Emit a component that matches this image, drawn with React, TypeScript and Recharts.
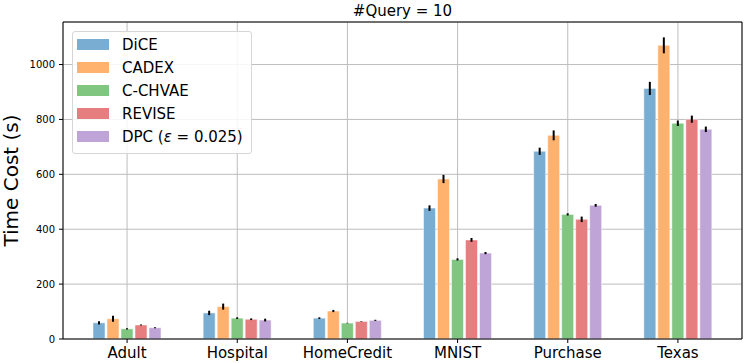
import React from 'react';
import { BarChart, Bar, XAxis, YAxis, CartesianGrid, Legend, ErrorBar } from 'recharts';

const categories = ['Adult', 'Hospital', 'HomeCredit', 'MNIST', 'Purchase', 'Texas'];

const diceValues = [59, 95, 76, 477, 684, 913];
const diceErrors = [6, 8, 3, 10, 13, 24];
const cadexValues = [74, 118, 102, 583, 742, 1070];
const cadexErrors = [11, 11, 4, 15, 18, 29];
const cchvaeValues = [37, 76, 58, 290, 454, 786];
const cchvaeErrors = [2, 3, 1, 4, 4, 10];
const reviseValues = [51, 72, 64, 361, 436, 801];
const reviseErrors = [2, 3, 1, 7, 10, 13];
const dpcValues = [41, 69, 68, 313, 487, 764];
const dpcErrors = [2, 5, 2, 4, 5, 10];

const yTicks = [0, 200, 400, 600, 800, 1000];

const series = [
  { key: 'dice', label: 'DiCE', color: '#79ADD2', values: diceValues, errors: diceErrors },
  { key: 'cadex', label: 'CADEX', color: '#FFB26E', values: cadexValues, errors: cadexErrors },
  { key: 'cchvae', label: 'C-CHVAE', color: '#80C680', values: cchvaeValues, errors: cchvaeErrors },
  { key: 'revise', label: 'REVISE', color: '#E67D7E', values: reviseValues, errors: reviseErrors },
  { key: 'dpc', label: 'DPC', color: '#BFA4D7', values: dpcValues, errors: dpcErrors },
];

const data = categories.map((name, i) => {
  const row: Record<string, any> = { name };
  series.forEach((s) => {
    row[s.key] = s.values[i];
    row[s.key + '_err'] = s.errors[i];
  });
  return row;
});

const FONT = '"DejaVu Sans", sans-serif';

const renderLegend = () => (
  <div
    style={{
      width: 178,
      border: '1px solid #d6d6d6',
      borderRadius: 3,
      background: 'rgba(255,255,255,0.85)',
      padding: '1px 0 5px 0',
      fontFamily: FONT,
      fontSize: 15,
      color: '#000',
    }}
  >
    {series.map((s) => (
      <div key={s.key} style={{ height: 23, display: 'flex', alignItems: 'center' }}>
        <div style={{ width: 32, height: 11, background: s.color, marginLeft: 4, marginRight: 13 }} />
        <span style={{ whiteSpace: 'nowrap' }}>
          {s.key === 'dpc' ? (
            <>
              DPC (<i>ε</i> = 0.025)
            </>
          ) : (
            s.label
          )}
        </span>
      </div>
    ))}
  </div>
);

export default function App() {
  return (
    <div style={{ position: 'absolute', left: 0, top: 0, background: '#fff' }}>
      <BarChart
        width={747}
        height={363}
        data={data}
        margin={{ top: 21, right: 4, bottom: 0, left: 23 }}
        barSize={12}
        barGap={2}
        style={{ fontFamily: FONT }}
      >
        <CartesianGrid stroke="#bdbdbd" strokeWidth={1} />
        <XAxis
          dataKey="name"
          height={24}
          padding={{ left: 9, right: 9 }}
          tickSize={4}
          tickMargin={4}
          tick={{ fontSize: 15, fill: '#000', fontFamily: FONT }}
          axisLine={{ stroke: '#000' }}
          tickLine={{ stroke: '#000' }}
          interval={0}
        />
        <XAxis
          xAxisId="top"
          orientation="top"
          dataKey="name"
          height={1}
          padding={{ left: 9, right: 9 }}
          tick={false}
          tickLine={false}
          axisLine={{ stroke: '#000' }}
          label={{ value: '#Query = 10', position: 'top', offset: 5, fontSize: 15, fill: '#000', fontFamily: FONT }}
        />
        <YAxis
          width={40}
          domain={[0, 1155]}
          ticks={yTicks}
          allowDataOverflow
          tickSize={4}
          tickMargin={4}
          tick={{ fontSize: 10, fill: '#000', fontFamily: FONT }}
          axisLine={{ stroke: '#000' }}
          tickLine={{ stroke: '#000' }}
          label={{
            value: 'Time Cost (s)',
            angle: -90,
            position: 'insideLeft',
            offset: -12,
            style: { textAnchor: 'middle', fontSize: 20, fill: '#000', fontFamily: FONT },
          }}
        />
        <YAxis
          yAxisId="right"
          orientation="right"
          width={1}
          domain={[0, 1155]}
          tick={false}
          tickLine={false}
          axisLine={{ stroke: '#000' }}
        />
        <Legend
          layout="vertical"
          align="center"
          verticalAlign="middle"
          content={renderLegend}
          wrapperStyle={{ left: 72, top: 31, width: 'auto' }}
        />
        {series.map((s) => (
          <Bar
            key={s.key}
            dataKey={s.key}
            name={s.label}
            fill={s.color}
            stroke="#ffffff"
            strokeOpacity={0.5}
            strokeWidth={1}
            isAnimationActive={false}
          >
            <ErrorBar dataKey={s.key + '_err'} width={0} stroke="#000" strokeWidth={2} direction="y" />
          </Bar>
        ))}
      </BarChart>
    </div>
  );
}
